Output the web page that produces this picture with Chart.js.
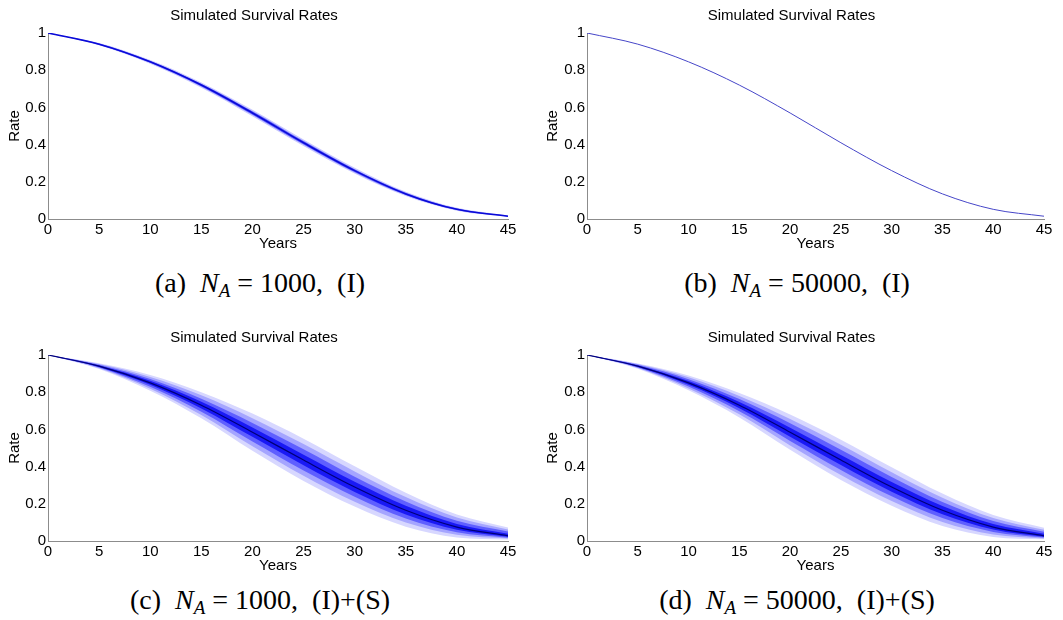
<!DOCTYPE html>
<html><head><meta charset="utf-8">
<script src="https://cdn.jsdelivr.net/npm/chart.js@4.4.1/dist/chart.umd.min.js"></script>
<style>
html,body{margin:0;padding:0;background:#fff}
body{width:1063px;height:620px;position:relative;overflow:hidden}
.p{position:absolute}
.p canvas{display:block}
.cap{position:absolute;width:400px;text-align:center;font-family:'Liberation Serif','DejaVu Serif',serif;font-size:28px;line-height:30px;color:#000;white-space:pre}
.cap i{font-style:italic}
.cap sub{font-size:19px;font-style:italic;vertical-align:-5px;line-height:0}
</style></head><body>
<div class="p" style="left:0px;top:0px"><canvas id="ca" width="530" height="258"></canvas></div>
<div class="p" style="left:539px;top:0px"><canvas id="cb" width="524" height="258"></canvas></div>
<div class="p" style="left:0px;top:322px"><canvas id="cc" width="530" height="258"></canvas></div>
<div class="p" style="left:539px;top:322px"><canvas id="cd" width="524" height="258"></canvas></div>
<div class="cap" style="left:60px;top:268px">(a)  <i>N</i><sub>A</sub> = 1000,  (I)</div>
<div class="cap" style="left:597px;top:268px">(b)  <i>N</i><sub>A</sub> = 50000,  (I)</div>
<div class="cap" style="left:60px;top:585px">(c)  <i>N</i><sub>A</sub> = 1000,  (I)+(S)</div>
<div class="cap" style="left:597px;top:585px">(d)  <i>N</i><sub>A</sub> = 50000,  (I)+(S)</div>
<script>
// ---- data ----
const years = [0, 5, 10, 15, 20, 25, 30, 35, 40, 45];
const xTicks = [0, 5, 10, 15, 20, 25, 30, 35, 40, 45];
const yTicks = [0, 0.2, 0.4, 0.6, 0.8, 1];

// (a) N_A = 1000, (I)
const aMedian = [1, 0.94, 0.845, 0.72, 0.57, 0.41, 0.26, 0.135, 0.052, 0.015];
const aHi2 = [1, 0.946, 0.855, 0.734, 0.587, 0.428, 0.276, 0.147, 0.06, 0.019];
const aHi1 = [1, 0.943, 0.85, 0.727, 0.579, 0.419, 0.268, 0.141, 0.056, 0.017];
const aLo1 = [1, 0.937, 0.84, 0.713, 0.561, 0.401, 0.252, 0.129, 0.048, 0.013];
const aLo2 = [1, 0.934, 0.835, 0.706, 0.553, 0.392, 0.244, 0.123, 0.044, 0.011];

// (b) N_A = 50000, (I)
const bMedian = [1, 0.94, 0.845, 0.72, 0.57, 0.41, 0.26, 0.135, 0.052, 0.015];

// (c) N_A = 1000, (I)+(S)
const cMedian = [1, 0.94, 0.85, 0.73, 0.585, 0.435, 0.29, 0.165, 0.075, 0.028];
const cHi4 = [1, 0.955, 0.892, 0.8, 0.685, 0.55, 0.402, 0.26, 0.143, 0.073];
const cHi3 = [1, 0.951, 0.882, 0.783, 0.66, 0.521, 0.374, 0.236, 0.126, 0.062];
const cHi2 = [1, 0.948, 0.871, 0.765, 0.635, 0.493, 0.346, 0.213, 0.109, 0.051];
const cHi1 = [1, 0.944, 0.861, 0.748, 0.61, 0.464, 0.318, 0.189, 0.092, 0.039];
const cLo1 = [1, 0.936, 0.84, 0.713, 0.56, 0.407, 0.264, 0.143, 0.061, 0.023];
const cLo2 = [1, 0.933, 0.829, 0.695, 0.535, 0.379, 0.238, 0.121, 0.047, 0.018];
const cLo3 = [1, 0.929, 0.819, 0.678, 0.51, 0.351, 0.211, 0.099, 0.033, 0.013];
const cLo4 = [1, 0.925, 0.808, 0.66, 0.485, 0.323, 0.185, 0.077, 0.019, 0.008];

// (d) N_A = 50000, (I)+(S)
const dMedian = [1, 0.94, 0.85, 0.73, 0.585, 0.435, 0.29, 0.165, 0.075, 0.028];
const dHi4 = [1, 0.954, 0.89, 0.796, 0.68, 0.545, 0.397, 0.255, 0.14, 0.071];
const dHi3 = [1, 0.951, 0.88, 0.78, 0.656, 0.518, 0.37, 0.233, 0.124, 0.06];
const dHi2 = [1, 0.947, 0.87, 0.763, 0.633, 0.49, 0.344, 0.21, 0.108, 0.05];
const dHi1 = [1, 0.944, 0.86, 0.747, 0.609, 0.463, 0.317, 0.188, 0.091, 0.039];
const dLo1 = [1, 0.937, 0.84, 0.714, 0.561, 0.408, 0.265, 0.144, 0.062, 0.023];
const dLo2 = [1, 0.933, 0.83, 0.697, 0.538, 0.382, 0.24, 0.123, 0.049, 0.019];
const dLo3 = [1, 0.93, 0.82, 0.681, 0.514, 0.355, 0.215, 0.102, 0.035, 0.014];
const dLo4 = [1, 0.926, 0.81, 0.664, 0.49, 0.328, 0.19, 0.081, 0.022, 0.009];

// ---- helpers ----
function pts(arr) { return years.map((x, i) => ({ x: x, y: arr[i] })); }
function bandSets(hi, lo, color) {
  return [
    { data: pts(hi), fill: '+1', backgroundColor: color, borderWidth: 0, pointRadius: 0, cubicInterpolationMode: 'monotone' },
    { data: pts(lo), fill: false, borderWidth: 0, pointRadius: 0, cubicInterpolationMode: 'monotone' }
  ];
}
function lineSet(arr, color, w) {
  return { data: pts(arr), fill: false, borderColor: color, borderWidth: w, pointRadius: 0, cubicInterpolationMode: 'monotone' };
}

Chart.defaults.font.family = "'Liberation Sans', Arial, Helvetica, sans-serif";
Chart.defaults.font.size = 15;
Chart.defaults.color = '#000';

function makeChart(id, datasets, rightPad, rateTop) {
  return new Chart(document.getElementById(id), {
    type: 'line',
    data: { datasets: datasets },
    options: {
      responsive: false, animation: false, events: [],
      layout: { padding: { left: 0, right: rightPad, top: 0, bottom: 0 } },
      plugins: {
        legend: { display: false }, tooltip: { enabled: false },
        title: { display: true, text: 'Simulated Survival Rates', color: '#000',
          font: { size: 15, weight: 'normal', lineHeight: 1.2 }, padding: { top: 7, bottom: 8 } }
      },
      scales: {
        x: {
          type: 'linear', min: 0, max: 45,
          grid: { display: false, drawTicks: false },
          border: { display: true, color: '#8c8c8c', width: 1 },
          afterBuildTicks: s => { s.ticks = xTicks.map(v => ({ value: v })); },
          ticks: { padding: 3, color: '#000', font: { size: 15, lineHeight: 1 }, maxRotation: 0, autoSkip: false,
            callback: v => String(v) },
          title: { display: true, text: 'Years', color: '#000', font: { size: 15, lineHeight: 1.2 }, padding: { top: 0, bottom: 5 } },
          afterFit: s => { s.height = 39; }
        },
        y: {
          type: 'linear', min: 0, max: 1,
          grid: { display: false, drawTicks: false },
          border: { display: true, color: '#8c8c8c', width: 1 },
          afterBuildTicks: s => { s.ticks = yTicks.map(v => ({ value: v })); },
          ticks: { padding: 2, color: '#000', font: { size: 15, lineHeight: 1.2 },
            callback: v => String(Math.round(v * 10) / 10) },
          title: { display: true, text: 'Rate', color: '#000', font: { size: 15, lineHeight: 1.2 }, padding: { top: rateTop, bottom: 0 } },
          afterFit: s => { s.width = 48; }
        }
      }
    }
  });
}

// (a)
makeChart('ca', [lineSet(aMedian, 'rgb(10,10,215)', 1.6)]
  .concat(bandSets(aHi1, aLo1, 'rgb(95,95,255)'))
  .concat(bandSets(aHi2, aLo2, 'rgb(200,200,255)')), 22, 6);
// (b)
makeChart('cb', [lineSet(bMedian, 'rgb(70,70,200)', 1)], 19, 5);
// (c)
makeChart('cc', [lineSet(cMedian, 'rgb(0,0,120)', 1.2)]
  .concat(bandSets(cHi1, cLo1, 'rgb(25,25,245)'))
  .concat(bandSets(cHi2, cLo2, 'rgb(95,95,255)'))
  .concat(bandSets(cHi3, cLo3, 'rgb(165,165,255)'))
  .concat(bandSets(cHi4, cLo4, 'rgb(215,215,255)')), 22, 6);
// (d)
makeChart('cd', [lineSet(dMedian, 'rgb(0,0,120)', 1.2)]
  .concat(bandSets(dHi1, dLo1, 'rgb(25,25,245)'))
  .concat(bandSets(dHi2, dLo2, 'rgb(95,95,255)'))
  .concat(bandSets(dHi3, dLo3, 'rgb(165,165,255)'))
  .concat(bandSets(dHi4, dLo4, 'rgb(215,215,255)')), 19, 5);
</script>
</body></html>
